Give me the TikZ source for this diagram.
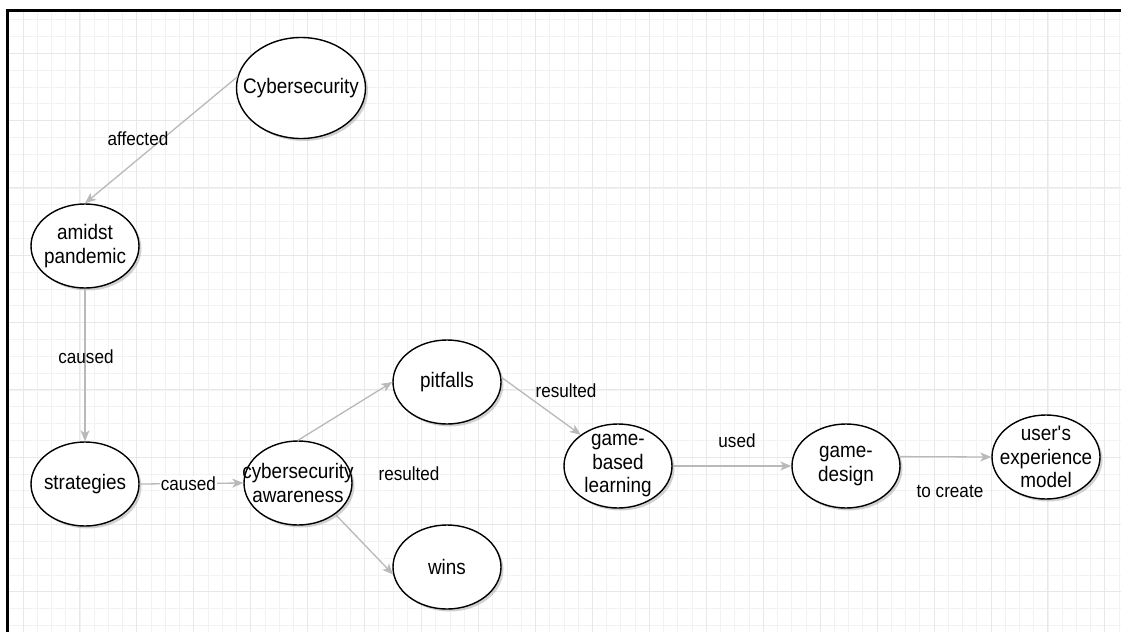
\documentclass[tikz,border=0pt]{standalone}
\usepackage{fontspec}
\setmainfont{Liberation Sans}[FakeStretch=0.9]
\usetikzlibrary{shapes.geometric,arrows.meta,shadows}

\tikzset{
    %% Pojmy -- elipsy s tieňom
    bub/.style={
        ellipse, draw=black, line width=1.4pt, fill=white,
        minimum width=108pt, minimum height=84pt,
        inner xsep=-80pt, inner ysep=-60pt, align=center,
        font=\fontsize{21}{23.5}\selectfont,
        drop shadow={shadow xshift=2.5pt, shadow yshift=-2.5pt, opacity=.35}
    },
    %% Vzťahy -- sivé šípky
    rel/.style={draw=gray!55, line width=1.3pt,
        -{Stealth[length=11pt, width=9pt, inset=3pt]}},
    %% Popis vzťahu
    rlbl/.style={font=\fontsize{19}{21}\selectfont, inner sep=1pt},
    %% Mriežka
    gridminor/.style={draw=gray!10, line width=0.8pt},
    gridmajor/.style={draw=gray!18, line width=0.9pt}
}

\begin{document}
\begin{tikzpicture}[x=1pt, y=-1pt]

\useasboundingbox (0,0) rectangle (1121,632);
\fill[white] (0,0) rectangle (1121,632);

%% ══════════════════════════════════════════════════════════════════
%% Mriežka a rám
%% ══════════════════════════════════════════════════════════════════
\begin{scope}
    \clip (8,11) rectangle (1121,632);
    \foreach \k in {-1,...,77} {
        \draw[gridminor] ({23+14.235*\k},11) -- ({23+14.235*\k},632);
    }
    \foreach \k in {-3,...,34} {
        \draw[gridminor] (8,{53.3+16.83*\k}) -- (1121,{53.3+16.83*\k});
    }
    \foreach \k in {0,...,19} {
        \draw[gridmajor] ({23+56.94*\k},11) -- ({23+56.94*\k},632);
    }
    \foreach \k in {0,...,8} {
        \draw[gridmajor] (8,{53.3+67.32*\k}) -- (1121,{53.3+67.32*\k});
    }
\end{scope}
\draw[line width=3pt] (7,632) -- (7,10) -- (1121,10);

%% ══════════════════════════════════════════════════════════════════
%% Pojmy
%% ══════════════════════════════════════════════════════════════════
\node[bub, minimum width=129pt, minimum height=101pt] (cyber) at (301,88) {Cybersecurity};
\node[bub] (amidst) at (85,246)  {amidst\\pandemic};
\node[bub] (strat)  at (85,484)  {strategies};
\node[bub] (aware)  at (298,483) {cybersecurity\\awareness};
\node[bub] (pitf)   at (447,382) {pitfalls};
\node[bub] (wins)   at (447,567) {wins};
\node[bub] (gbl)    at (618,466) {game-\\based\\learning};
\node[bub] (gdes)   at (846,466) {game-\\design};
\node[bub] (ux)     at (1046,457) {user\textquotesingle s\\experience\\model};

%% ══════════════════════════════════════════════════════════════════
%% Vzťahy
%% ══════════════════════════════════════════════════════════════════
\draw[rel] (cyber.170) -- (amidst.north);
\draw[rel] (amidst.south) -- (strat.north);
\draw[rel] (strat.east) -- (aware.west)
    node[rlbl, pos=.47, fill=white] (lcaus2) {caused};
\draw[rel] (aware.north) -- (pitf.west);
\draw[rel] (aware.-40) -- (wins.188);
\draw[rel] (pitf.5) -- (gbl.140);
\draw[rel] (gbl.east) -- (gdes.west);
\draw[rel] (gdes.10) -- (ux.west);

%% Popisy
\node[rlbl] (laff)  at (138,139) {affected};
\node[rlbl] (lcaus) at (86,357)  {caused};
\node[rlbl] (lres1) at (409,474) {resulted};
\node[rlbl] (lres2) at (566,391) {resulted};
\node[rlbl] (lused) at (737,441) {used};
\node[rlbl] (lcrea) at (950,491) {to create};

\end{tikzpicture}
\end{document}
